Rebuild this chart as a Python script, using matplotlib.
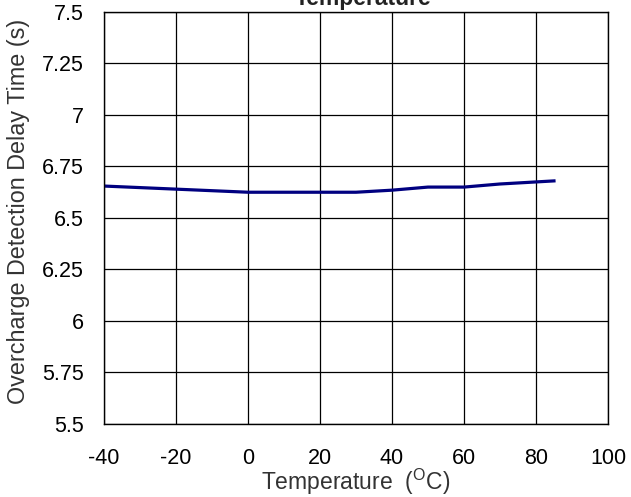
import numpy as np
import matplotlib
matplotlib.use('Agg')
import matplotlib.pyplot as plt

plt.rcParams['font.family'] = ['Liberation Sans', 'DejaVu Sans']
plt.rcParams['axes.unicode_minus'] = False

temp = [-40, -20, 0, 10, 20, 30, 40, 50, 60, 70, 85]
delay = [6.655, 6.64, 6.625, 6.625, 6.625, 6.625, 6.635, 6.65, 6.65, 6.665, 6.68]

xticks = [-40, -20, 0, 20, 40, 60, 80, 100]
yticks = [5.5, 5.75, 6, 6.25, 6.5, 6.75, 7, 7.25, 7.5]
ylabels = ['5.5', '5.75', '6', '6.25', '6.5', '6.75', '7', '7.25', '7.5']

fig = plt.figure(figsize=(6.31, 4.97), dpi=100)
ax = fig.add_axes([0.1648, 0.1469, 0.7987, 0.829])

ax.plot(temp, delay, color='#000080', lw=2.3)

ax.set_xlim(-40, 100)
ax.set_ylim(5.5, 7.5)
ax.set_xticks(xticks)
ax.set_yticks(yticks)
ax.set_yticklabels(ylabels)
ax.grid(True, color='black', lw=0.9)
ax.tick_params(axis='both', length=0, labelsize=15.5)
ax.tick_params(axis='x', pad=17)
ax.tick_params(axis='y', pad=14.5)
for s in ax.spines.values():
    s.set_linewidth(1.0)
    s.set_color('black')

ax.set_xlabel('Temperature  ($\\mathregular{^{O}}$C)', fontsize=16.5, color='#333333', va='top')
ax.xaxis.set_label_coords(0.5, -0.105)
ax.set_ylabel('Overcharge Detection Delay Time (s)', fontsize=16.8, color='#333333')
ax.yaxis.set_label_coords(-0.147, 0.515)
fig.text(0.575, 1 - 5 / 497, 'Temperature', ha='center', va='baseline', fontsize=16.5,
         fontweight='bold', color='#222222')

fig.savefig('out.png', dpi=100)
plt.close()
